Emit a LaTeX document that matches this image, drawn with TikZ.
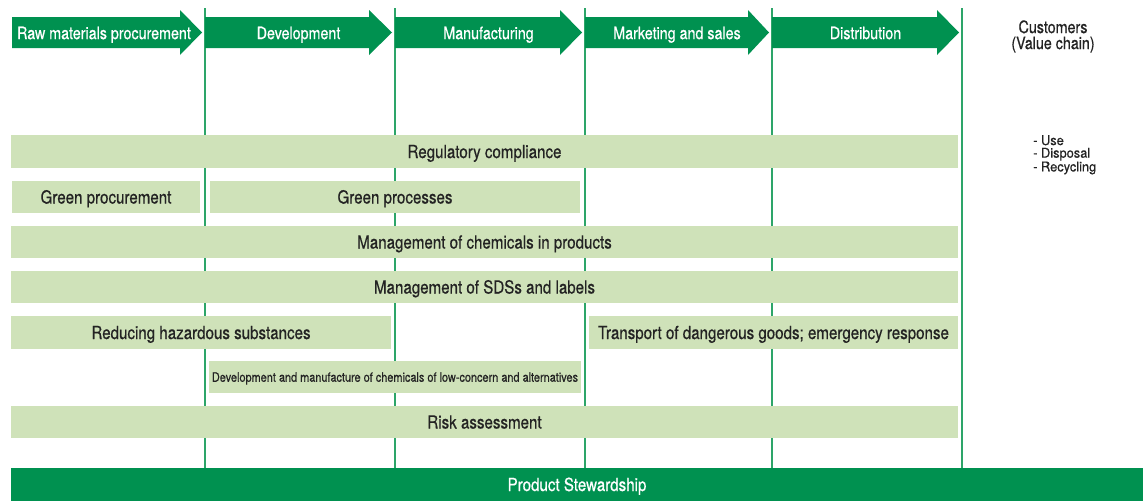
\documentclass[tikz,border=0pt]{standalone}
\usepackage{fontspec}
\setmainfont{TeX Gyre Heros}[FakeStretch=0.84,FakeBold=0.6]
\newfontfamily\widefont{TeX Gyre Heros}[FakeStretch=0.95,FakeBold=0.5]
\definecolor{dgreen}{RGB}{0,145,80}
\definecolor{lgreen}{RGB}{207,226,185}
\definecolor{vline}{RGB}{45,165,105}
\definecolor{txt}{RGB}{35,35,35}
\tikzset{
  bar/.style={fill=lgreen, draw=none, text=txt, inner sep=0pt, text height=13pt, text depth=0pt, font=\fontsize{18}{20}\selectfont},
  smallbar/.style={bar, text height=9.5pt, font=\fontsize{13}{15}\selectfont},
  arrowlabel/.style={text=white, inner sep=0pt, text height=12.2pt, text depth=0pt, font=\fontsize{17}{19}\selectfont},
  stagearrow/.style={fill=dgreen, draw=none},
  divider/.style={draw=vline, line width=1.2pt},
}
\newcommand{\stagearrow}[3]{% x0, base, tip
  \fill[stagearrow] (#1,17) -- (#2,17) -- (#2,10) -- (#3,32.5) -- (#2,55) -- (#2,48) -- (#1,48) -- cycle;}
\begin{document}
\begin{tikzpicture}[x=1pt,y=-1pt]
\useasboundingbox (0,0) rectangle (1143,501);
% dividers
\foreach \xx/\nm in {205/d1,395/d2,585/d3,772/d4,962/d5}{
  \coordinate (\nm t) at (\xx,8);
  \coordinate (\nm b) at (\xx,468);
  \draw[divider] (\nm t) -- (\nm b);
}
% stage arrows
\stagearrow{12}{180}{202}
\stagearrow{205}{369}{392}
\stagearrow{395}{560}{582}
\stagearrow{585}{748}{769}
\stagearrow{772}{937}{959}
\node[arrowlabel] (s1) at (104,33) {Raw materials procurement};
\node[arrowlabel] (s2) at (298.5,33) {Development};
\node[arrowlabel] (s3) at (488.5,33) {Manufacturing};
\node[arrowlabel] (s4) at (677,33) {Marketing and sales};
\node[arrowlabel] (s5) at (865.5,33) {Distribution};
\node[text=txt, align=center, font=\fontsize{17}{16}\selectfont] (cust) at (1053,36.5) {Customers\\(Value chain)};
\node[text=txt, align=left, anchor=north west, inner sep=0pt, font=\widefont\fontsize{13.5}{12.6}\selectfont] (uses) at (1033,135) {- Use\\- Disposal\\- Recycling};
% bars
\node[bar, minimum width=947pt, minimum height=33pt] (reg) at (484.5,151.5) {Regulatory compliance};
\node[bar, minimum width=188pt, minimum height=32pt] (gp) at (106,197) {Green procurement};
\node[bar, minimum width=370pt, minimum height=32pt] (gproc) at (395,197) {Green processes};
\node[bar, minimum width=947pt, minimum height=32pt] (mcp) at (484.5,242) {Management of chemicals in products};
\node[bar, minimum width=947pt, minimum height=32pt] (sds) at (484.5,287) {Management of SDSs and labels};
\node[bar, minimum width=380pt, minimum height=33pt] (rhs) at (201,332.5) {Reducing hazardous substances};
\node[bar, minimum width=369pt, minimum height=33pt] (tdg) at (773.5,332.5) {Transport of dangerous goods; emergency response};
\node[smallbar, minimum width=372pt, minimum height=32pt] (dev) at (395,377) {Development and manufacture of chemicals of low-concern and alternatives};
\node[bar, minimum width=947pt, minimum height=32pt] (risk) at (484.5,422) {Risk assessment};
\node[fill=dgreen, text=white, inner sep=0pt, text height=13pt, text depth=0pt, minimum width=1132pt, minimum height=33pt, font=\fontsize{18}{20}\selectfont] (ps) at (577,484.5) {Product Stewardship};
\end{tikzpicture}
\end{document}
